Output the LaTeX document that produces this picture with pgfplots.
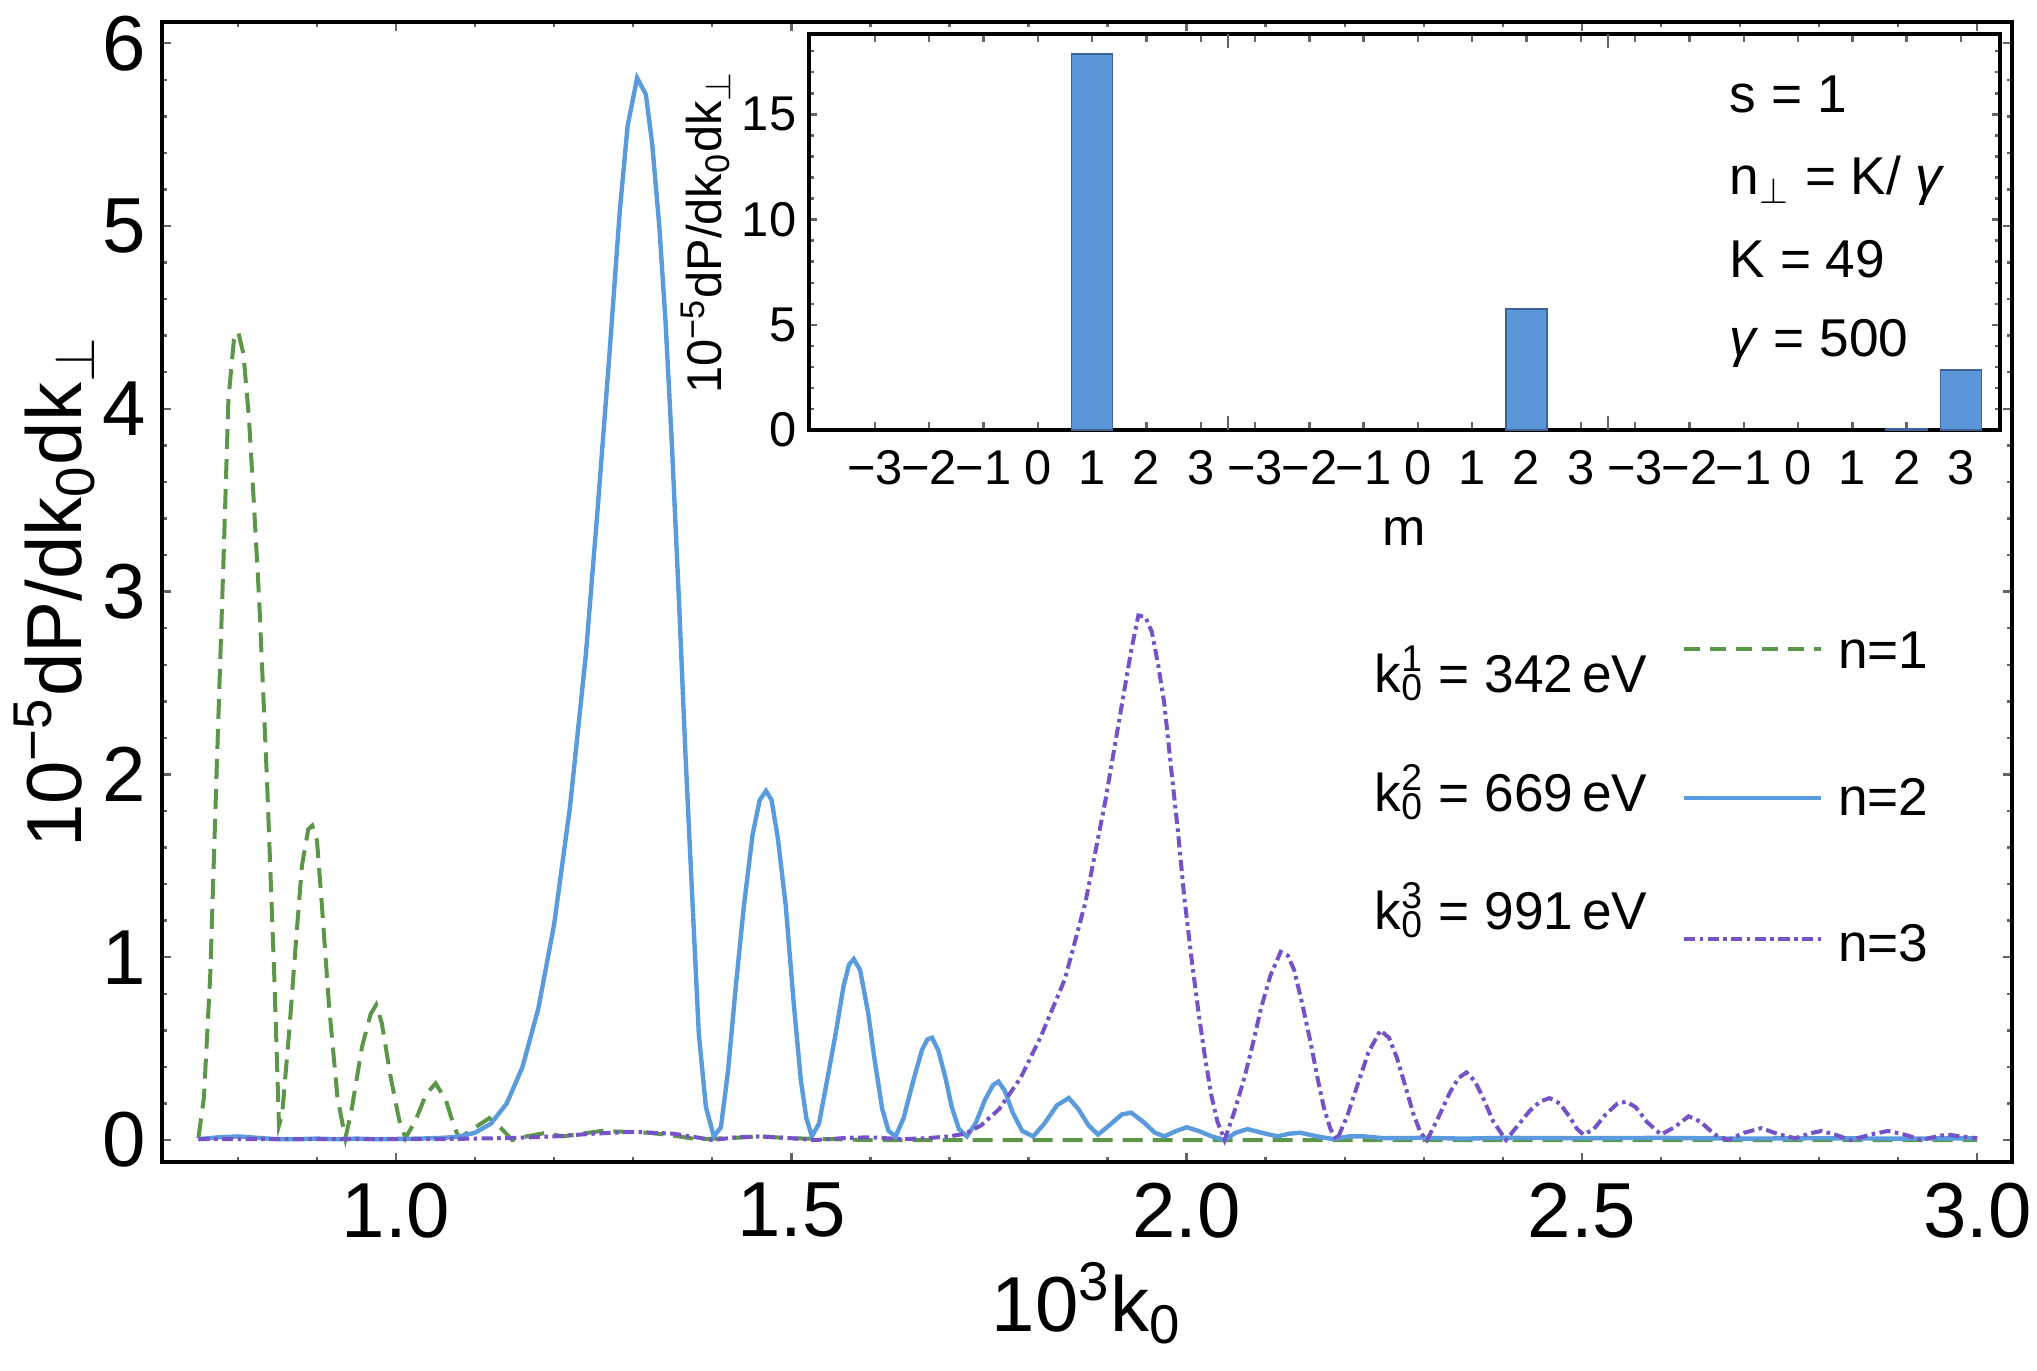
\documentclass[border=0pt]{standalone}
\usepackage{pgfplots}
\pgfplotsset{compat=1.18}
\usepackage{pgfplotstable}
\usepackage{fontspec}
\setmainfont{Liberation Sans}
\definecolor{cgreen}{RGB}{92,150,72}
\definecolor{cblue}{RGB}{90,155,222}
\definecolor{cpurple}{RGB}{117,82,200}
\definecolor{cbar}{RGB}{91,150,216}
\definecolor{cbaredge}{RGB}{60,100,150}
\definecolor{ctick}{RGB}{100,100,100}
\newcommand{\mainfs}{\fontsize{19.5}{22}\selectfont}
\newcommand{\legfs}{\fontsize{13.3}{15}\selectfont}
\newcommand{\insfs}{\fontsize{12.2}{14}\selectfont}

\pgfplotstableread{
x y
0.750 0.01
0.757 0.23
0.765 0.90
0.773 2.00
0.782 3.20
0.788 4.05
0.795 4.38
0.8005 4.42
0.807 4.30
0.814 3.95
0.820 3.50
0.827 2.95
0.837 1.95
0.846 0.90
0.852 0.08
0.856 0.14
0.865 0.60
0.873 1.06
0.881 1.50
0.889 1.70
0.894 1.72
0.900 1.64
0.906 1.30
0.915 0.75
0.926 0.23
0.936 0.01
0.944 0.17
0.957 0.51
0.968 0.69
0.975 0.74
0.982 0.64
0.993 0.35
1.004 0.11
1.012 0.01
1.025 0.11
1.038 0.25
1.050 0.31
1.063 0.22
1.073 0.08
1.080 0.01
1.097 0.06
1.118 0.12
1.134 0.06
1.147 0.00
1.165 0.02
1.190 0.04
1.210 0.02
1.235 0.035
1.260 0.05
1.290 0.045
1.320 0.04
1.350 0.025
1.380 0.005
1.420 0.01
1.460 0.02
1.500 0.01
1.550 0.005
1.600 0.0
3.000 0.0
}\greendata

\pgfplotstableread{
x y
0.750 0.005
0.775 0.015
0.800 0.02
0.825 0.012
0.850 0.005
0.875 0.005
0.900 0.008
0.925 0.005
0.950 0.008
0.975 0.005
1.000 0.006
1.030 0.008
1.060 0.012
1.080 0.02
1.100 0.04
1.120 0.09
1.140 0.20
1.160 0.40
1.180 0.72
1.200 1.18
1.220 1.82
1.240 2.65
1.255 3.45
1.270 4.30
1.283 5.08
1.293 5.55
1.305 5.81
1.316 5.72
1.324 5.45
1.333 5.00
1.341 4.47
1.349 3.80
1.358 2.94
1.366 2.12
1.375 1.30
1.383 0.58
1.392 0.18
1.402 0.02
1.411 0.07
1.420 0.38
1.430 0.85
1.440 1.28
1.451 1.67
1.460 1.86
1.468 1.91
1.475 1.86
1.483 1.65
1.493 1.28
1.503 0.75
1.512 0.33
1.519 0.12
1.526 0.02
1.535 0.09
1.545 0.32
1.556 0.58
1.566 0.84
1.573 0.96
1.579 0.99
1.587 0.93
1.597 0.70
1.606 0.42
1.615 0.17
1.623 0.05
1.632 0.02
1.642 0.12
1.654 0.32
1.665 0.49
1.672 0.55
1.678 0.56
1.686 0.49
1.695 0.34
1.703 0.18
1.712 0.06
1.722 0.02
1.733 0.09
1.745 0.22
1.755 0.30
1.762 0.32
1.770 0.27
1.780 0.15
1.792 0.05
1.806 0.02
1.820 0.09
1.836 0.19
1.851 0.23
1.863 0.17
1.876 0.08
1.888 0.03
1.902 0.08
1.918 0.14
1.930 0.15
1.945 0.10
1.960 0.04
1.972 0.02
1.987 0.05
2.000 0.07
2.015 0.05
2.032 0.02
2.048 0.00
2.062 0.04
2.077 0.06
2.095 0.04
2.115 0.02
2.130 0.035
2.144 0.04
2.165 0.02
2.186 0.005
2.205 0.02
2.225 0.02
2.250 0.01
2.300 0.012
2.350 0.008
2.400 0.012
2.500 0.01
2.600 0.012
2.700 0.008
2.800 0.01
2.900 0.008
3.000 0.01
}\bluedata

\pgfplotstableread{
x y
0.750 0.005
0.850 0.005
0.950 0.005
1.050 0.005
1.100 0.008
1.150 0.012
1.200 0.02
1.250 0.035
1.300 0.045
1.350 0.035
1.380 0.015
1.400 0.0
1.430 0.015
1.460 0.02
1.500 0.01
1.530 0.0
1.570 0.012
1.600 0.015
1.640 0.005
1.670 0.01
1.700 0.02
1.720 0.035
1.740 0.08
1.763 0.17
1.790 0.34
1.815 0.56
1.846 0.88
1.872 1.30
1.897 1.85
1.918 2.38
1.930 2.68
1.939 2.87
1.948 2.86
1.956 2.78
1.964 2.60
1.972 2.38
1.980 2.05
1.989 1.69
1.997 1.33
2.006 1.00
2.015 0.70
2.023 0.46
2.031 0.25
2.039 0.10
2.048 0.00
2.060 0.15
2.073 0.34
2.084 0.53
2.094 0.72
2.106 0.90
2.119 1.03
2.128 1.01
2.136 0.93
2.146 0.75
2.157 0.53
2.166 0.33
2.174 0.17
2.182 0.06
2.190 0.00
2.203 0.13
2.216 0.30
2.230 0.48
2.245 0.60
2.256 0.56
2.266 0.45
2.277 0.29
2.287 0.14
2.296 0.04
2.304 0.00
2.318 0.12
2.333 0.26
2.344 0.34
2.354 0.37
2.365 0.32
2.375 0.23
2.388 0.10
2.404 0.00
2.419 0.08
2.434 0.16
2.447 0.21
2.459 0.23
2.472 0.20
2.484 0.13
2.494 0.06
2.502 0.03
2.515 0.06
2.530 0.14
2.545 0.20
2.556 0.21
2.568 0.18
2.582 0.10
2.600 0.03
2.617 0.07
2.635 0.13
2.650 0.10
2.668 0.03
2.685 0.00
2.705 0.04
2.727 0.065
2.750 0.03
2.770 0.01
2.787 0.035
2.803 0.05
2.820 0.03
2.840 0.00
2.865 0.03
2.887 0.05
2.908 0.03
2.930 0.00
2.948 0.02
2.962 0.03
2.980 0.02
3.000 0.01
}\purpledata

% nonzero bars only (all other categories are 0)
\pgfplotstableread{
x y
4 17.86
12 5.75
19 0.08
20 2.85
}\insetdata

\begin{document}
\begin{tikzpicture}
\begin{axis}[
  name=main, at={(0,0)}, anchor=south west,
  scale only axis, width=462.5pt, height=285pt,
  xmin=0.704, xmax=3.044, ymin=-0.12, ymax=6.116,
  xtick={1,1.5,2,2.5,3}, xticklabels={1.0,1.5,2.0,2.5,3.0},
  minor xtick={0.8,0.9,1.1,1.2,1.3,1.4,1.6,1.7,1.8,1.9,2.1,2.2,2.3,2.4,2.6,2.7,2.8,2.9},
  ytick={0,1,2,3,4,5,6}, yticklabels={0,1,2,3,4,5,6},
  minor y tick num=4,
  tick align=inside, major tick length=2.2pt, minor tick length=1.3pt,
  tick style={ctick, line width=0.6pt},
  axis line style={line width=0.9pt, black},
  ticklabel style={font=\mainfs},
  xticklabel style={inner sep=0pt, anchor=north, yshift=-5pt},
  yticklabel style={inner sep=0pt, anchor=east, xshift=-3.8pt},
  clip=false,
]
\addplot[cgreen, line width=1pt, dash pattern=on 5pt off 2.5pt] table {\greendata};
\addplot[cblue, line width=1.1pt] table {\bluedata};
\addplot[cpurple, line width=1pt, dash pattern=on 2.8pt off 1.1pt on 0.9pt off 1.1pt] table {\purpledata};

\node[rotate=90, anchor=base, font=\mainfs] at (axis cs:0.6028,2.998) {10\textsuperscript{−5}dP/dk\textsubscript{0}dk\textsubscript{$\perp$}};
\node[anchor=base, font=\mainfs] at (axis cs:1.874,-1.045) {10\textsuperscript{3}k\textsubscript{0}};

\node[anchor=base west, font=\legfs, inner sep=0pt] at (axis cs:2.237,2.45) {k\rlap{\textsuperscript{1}}\textsubscript{0} = 342\,eV};
\node[anchor=base west, font=\legfs, inner sep=0pt] at (axis cs:2.237,1.80) {k\rlap{\textsuperscript{2}}\textsubscript{0} = 669\,eV};
\node[anchor=base west, font=\legfs, inner sep=0pt] at (axis cs:2.237,1.154) {k\rlap{\textsuperscript{3}}\textsubscript{0} = 991\,eV};
\draw[cgreen, line width=1pt, dash pattern=on 4pt off 2.5pt] (axis cs:2.629,2.686) -- (axis cs:2.803,2.686);
\draw[cblue, line width=1.1pt] (axis cs:2.629,1.871) -- (axis cs:2.803,1.871);
\draw[cpurple, line width=1pt, dash pattern=on 2.8pt off 1.1pt on 0.9pt off 1.1pt] (axis cs:2.629,1.10) -- (axis cs:2.803,1.10);
\node[anchor=base west, font=\legfs, inner sep=0pt] at (axis cs:2.823,2.582) {n=1};
\node[anchor=base west, font=\legfs, inner sep=0pt] at (axis cs:2.823,1.778) {n=2};
\node[anchor=base west, font=\legfs, inner sep=0pt] at (axis cs:2.823,0.979) {n=3};
\end{axis}

\begin{axis}[
  at={(161.75pt,183pt)}, anchor=south west,
  scale only axis, width=297.75pt, height=99pt,
  xmin=-1.215, xmax=20.72, ymin=0, ymax=18.82,
  axis background/.style={fill=white},
  ybar, bar width=10.25pt,
  xtick={0,...,20},
  xticklabels={−3,−2,−1,0,1,2,3,−3,−2,−1,0,1,2,3,−3,−2,−1,0,1,2,3},
  extra x ticks={6.5,13.5}, extra x tick labels={},
  extra x tick style={major tick length=3.5pt},
  ytick={0,5,10,15}, yticklabels={0,5,10,15},
  minor ytick={1,2,3,4,6,7,8,9,11,12,13,14,16,17,18},
  tick align=inside, major tick length=2pt, minor tick length=1.2pt,
  tick style={ctick, line width=0.6pt},
  axis line style={line width=0.9pt, black},
  ticklabel style={font=\insfs},
  xticklabel style={inner sep=0pt, anchor=north, yshift=-5pt},
  yticklabel style={inner sep=0pt, anchor=east, xshift=-3pt},
  clip=false,
]
\addplot[fill=cbar, draw=cbaredge, line width=0.4pt] table {\insetdata};
\node[rotate=90, anchor=base, font=\insfs] at (axis cs:-2.818,9.41) {10\textsuperscript{−5}dP/dk\textsubscript{0}dk\textsubscript{$\perp$}};
\node[anchor=base, font=\fontsize{13}{15}\selectfont] at (axis cs:9.75,-5.51) {m};
\node[anchor=base west, font=\legfs, inner sep=0pt] at (axis cs:15.73,15.07) {s = 1};
\node[anchor=base west, font=\legfs, inner sep=0pt] at (axis cs:15.73,11.17) {n\textsubscript{$\perp$} = K/ \textit{γ}};
\node[anchor=base west, font=\legfs, inner sep=0pt] at (axis cs:15.73,7.27) {K = 49};
\node[anchor=base west, font=\legfs, inner sep=0pt] at (axis cs:15.73,3.47) {\textit{γ} = 500};
\end{axis}
\pgfresetboundingbox
\path[use as bounding box] (-40.5pt,-52.25pt) rectangle (468.75pt,290.5pt);
\end{tikzpicture}
\end{document}
